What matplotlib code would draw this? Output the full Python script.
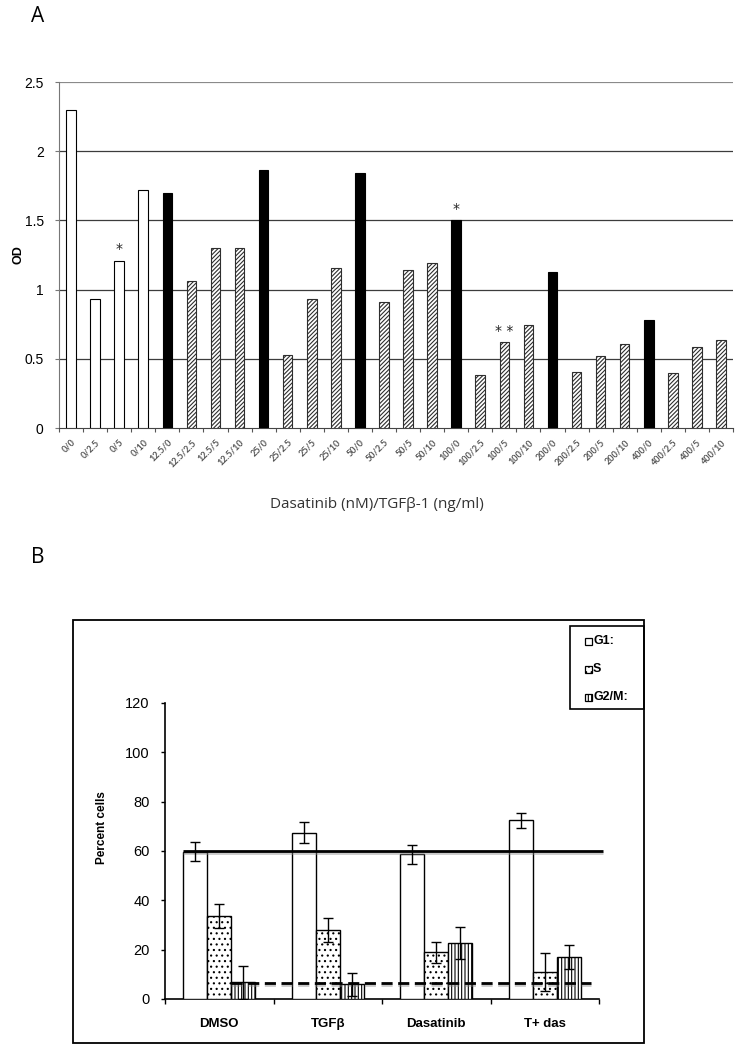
import numpy as np
import matplotlib.pyplot as plt
from matplotlib.patches import Rectangle
import matplotlib.patheffects as pe

plt.rcParams['hatch.linewidth'] = 0.8

# ---- panel A data ----
labels_a = ['0/0', '0/2.5', '0/5', '0/10', '12.5/0', '12.5/2.5', '12.5/5', '12.5/10',
            '25/0', '25/2.5', '25/5', '25/10', '50/0', '50/2.5', '50/5', '50/10',
            '100/0', '100/2.5', '100/5', '100/10', '200/0', '200/2.5', '200/5', '200/10',
            '400/0', '400/2.5', '400/5', '400/10']
od = [2.30, 0.93, 1.21, 1.72, 1.70, 1.06, 1.30, 1.30,
      1.865, 0.525, 0.935, 1.155, 1.84, 0.91, 1.14, 1.19,
      1.50, 0.38, 0.62, 0.745, 1.125, 0.405, 0.52, 0.61,
      0.78, 0.40, 0.585, 0.635]
stars = {'0/5': '*', '100/0': '*', '100/5': '* *'}

# ---- panel B data ----
groups = ['DMSO', 'TGFβ', 'Dasatinib', 'T+ das']
g1 = [59.7, 67.4, 58.6, 72.4]
g1_err = [3.9, 4.2, 4.0, 3.2]
s_ph = [33.7, 27.9, 18.9, 10.9]
s_err = [5.0, 4.9, 4.2, 7.8]
g2m = [6.7, 5.9, 22.7, 17.1]
g2m_err = [6.6, 4.8, 6.3, 4.9]
ref_solid = 60
ref_dash = 6.6

W, H = 745, 1049
fig = plt.figure(figsize=(W / 100, H / 100), dpi=100)


def box(l, t, r, b):
    return [l / W, 1 - b / H, (r - l) / W, (b - t) / H]


narrow = ['Liberation Sans Narrow', 'Liberation Sans', 'DejaVu Sans']
arial = ['Liberation Sans', 'DejaVu Sans']

# ================= panel A =================
axA = fig.add_axes(box(59, 82, 733, 428))
x = np.arange(len(labels_a))
for xi, lab, v in zip(x, labels_a, od):
    dose, tgf = lab.split('/')
    if dose == '0':
        fc, ec, h = 'white', 'black', None
    elif tgf == '0':
        fc, ec, h = 'black', 'black', None
    else:
        fc, ec, h = 'white', '#2e2e2e', '////////'
    axA.bar(xi, v, 0.4, color=fc, edgecolor=ec, hatch=h, linewidth=0.8, zorder=3)
    if lab in stars:
        axA.text(xi, v + 0.03, stars[lab], ha='center', va='bottom', fontsize=10,
                 color='#222222', zorder=4)

axA.set_xlim(-0.5, len(labels_a) - 0.5)
axA.set_ylim(0, 2.5)
yt = np.arange(0, 2.51, 0.5)
axA.set_yticks(yt)
axA.set_yticklabels(['0', '0.5', '1', '1.5', '2', '2.5'], family=narrow, fontsize=10)
for y in yt[1:-1]:
    axA.axhline(y, color='#3c3c3c', lw=0.9, zorder=1)
axA.axhline(yt[-1], color='#8a8a8a', lw=1.6, zorder=1)
axA.set_xticks(np.arange(-0.5, len(labels_a), 1))
axA.set_xticklabels([])
axA.set_xticks(x, minor=True)
axA.set_xticklabels(labels_a, minor=True, rotation=45, ha='right', va='top',
                    rotation_mode='anchor', fontsize=6.5, fontweight='bold', color='#555555',
                    family=['Lato', 'DejaVu Sans'])
axA.tick_params(axis='x', which='major', length=3, color='#555555', direction='out')
axA.tick_params(axis='x', which='minor', length=0, pad=7)
axA.tick_params(axis='y', length=3, color='#777777', pad=8)
for sp in ['top', 'right']:
    axA.spines[sp].set_visible(False)
axA.spines['left'].set_color('#777777')
axA.spines['bottom'].set_color('#444444')

fig.text(18 / W, 1 - 255 / H, 'OD', rotation=90, ha='center', va='center',
         fontsize=9, fontweight='bold', family=arial)
fig.text(377 / W, 1 - 505 / H, 'Dasatinib (nM)/TGFβ-1 (ng/ml)', ha='center', va='center',
         fontsize=11, color='#333333', family=['Open Sans', 'DejaVu Sans'])
fig.text(31 / W, 1 - 6 / H, 'A', ha='left', va='top', fontsize=15, family=['Open Sans', 'DejaVu Sans'])
fig.text(31 / W, 1 - 547 / H, 'B', ha='left', va='top', fontsize=15, family=['Open Sans', 'DejaVu Sans'])

# ================= panel B =================
fig.add_artist(Rectangle((72.7 / W, 1 - 1043 / H), (644 - 72.7) / W, (1043 - 620) / H,
                         transform=fig.transFigure, fill=False, edgecolor='black', lw=1.3))

axB = fig.add_axes(box(165, 703, 599, 999))
xb = np.arange(len(groups))
w = 0.222
ekw = dict(elinewidth=1, capthick=1, ecolor='black', zorder=6)
axB.bar(xb - w, g1, w, yerr=g1_err, color='white', edgecolor='black', lw=1,
        capsize=3.5, error_kw=ekw, zorder=3)
axB.bar(xb, s_ph, w, yerr=s_err, color='white', edgecolor='black', lw=1, hatch='...',
        capsize=3.5, error_kw=ekw, zorder=3)
axB.bar(xb + w, g2m, w, yerr=g2m_err, color='white', edgecolor='black', lw=1, hatch='|||||',
        capsize=3.5, error_kw=ekw, zorder=3)

shadow = [pe.SimpleLineShadow(offset=(0, -1.5), shadow_color='#888888', alpha=0.45), pe.Normal()]
axB.hlines(ref_solid, -1.5 * w, 3.54, color='black', lw=2.0, zorder=5,
           clip_on=False, path_effects=shadow)
axB.hlines(ref_dash, 0.5 * w, 3.43, color='black', lw=2.0,
           linestyles=(0, (4, 2)), zorder=5, path_effects=shadow)

axB.set_xlim(-0.5, len(groups) - 0.5)
axB.set_ylim(0, 120)
axB.set_yticks(np.arange(0, 121, 20))
axB.set_yticklabels([str(v) for v in range(0, 121, 20)], family=narrow, fontsize=10.5)
axB.set_xticks(np.arange(-0.5, len(groups), 1))
axB.set_xticklabels([])
axB.set_xticks(xb, minor=True)
axB.set_xticklabels(groups, minor=True, fontsize=9.5, fontweight='bold', family=arial)
axB.tick_params(axis='x', which='major', length=3.5, width=1)
axB.tick_params(axis='x', which='minor', length=0, pad=14)
axB.tick_params(axis='y', length=3, width=1, pad=8)
for sp in ['top', 'right']:
    axB.spines[sp].set_visible(False)
for sp in ['left', 'bottom']:
    axB.spines[sp].set_linewidth(1.2)
fig.text(102 / W, 1 - 828 / H, 'Percent cells', rotation=90, ha='center', va='center',
         fontsize=8.5, fontweight='bold', family=arial)

# legend box
fig.add_artist(Rectangle((570 / W, 1 - 709 / H), (644 - 570) / W, (709 - 626) / H,
                         transform=fig.transFigure, fill=False, edgecolor='black', lw=1.2))
leg_names = ['G1:', 'S', 'G2/M:']
leg_hatch = [None, '...', '|||||']
leg_y = [641, 669, 697]
for name, h, yy in zip(leg_names, leg_hatch, leg_y):
    fig.add_artist(Rectangle((585 / W, 1 - (yy + 3.5) / H), 6.5 / W, 7 / H,
                             transform=fig.transFigure, facecolor='white',
                             edgecolor='black', lw=0.9, hatch=h))
    fig.text(593 / W, 1 - yy / H, name, ha='left', va='center', fontsize=9,
             fontweight='bold', family=arial)

fig.savefig('out.png', dpi=100)
